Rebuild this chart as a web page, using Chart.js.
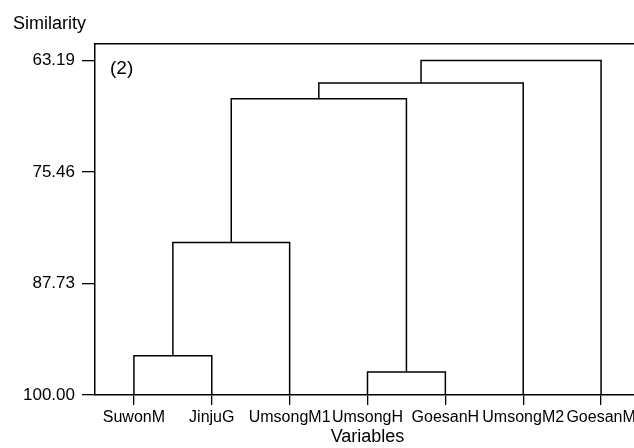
<!DOCTYPE html>
<html>
<head>
<meta charset="utf-8">
<script src="https://cdn.jsdelivr.net/npm/chart.js@4/dist/chart.umd.min.js"></script>
<style>
  html, body { margin: 0; padding: 0; background: #fff; overflow: hidden; }
  #wrap { width: 634px; height: 448px; overflow: hidden; }
</style>
</head>
<body>
<div id="wrap"><canvas id="myChart" width="680" height="448"></canvas></div>
<script>
// leaves of the dendrogram, left to right
const leaves = ['SuwonM', 'JinjuG', 'UmsongM1', 'UmsongH', 'GoesanH', 'UmsongM2', 'GoesanM'];
// merges: node ids 0..6 are leaves, 7.. are the clusters made below, in order
const mergeLeft = [0, 3, 7, 9, 10, 11];
const mergeRight = [1, 4, 2, 8, 5, 6];
const mergeHeight = [95.67, 97.47, 83.22, 67.38, 65.65, 63.19];
const yTicks = [63.19, 75.46, 87.73, 100.00];

// position of every node, built from the merge table
var nodeX = leaves.map(function (l, i) { return i; });
var nodeY = leaves.map(function () { return 100; });
var datasets = [];
for (var i = 0; i < mergeLeft.length; i++) {
	var a = mergeLeft[i], b = mergeRight[i], h = mergeHeight[i];
	datasets.push({
		data: [
			{x: nodeX[a], y: nodeY[a]},
			{x: nodeX[a], y: h},
			{x: nodeX[b], y: h},
			{x: nodeX[b], y: nodeY[b]}
		],
		borderColor: '#000',
		borderWidth: 1.5,
		pointRadius: 0,
		tension: 0,
		fill: false
	});
	nodeX.push((nodeX[a] + nodeX[b]) / 2);
	nodeY.push(h);
}

Chart.defaults.font.family = '"Liberation Sans", Arial, sans-serif';
Chart.defaults.color = '#000';

// the "(2)" panel tag in the corner of the plot
const panelTag = {
	id: 'panelTag',
	afterDraw(chart) {
		var ctx = chart.ctx;
		ctx.save();
		ctx.font = '19px "Liberation Sans", Arial, sans-serif';
		ctx.fillStyle = '#000';
		ctx.textBaseline = 'alphabetic';
		ctx.fillText('(2)', chart.chartArea.left + 15, chart.chartArea.top + 30);
		ctx.restore();
	}
};

var ctx = document.getElementById('myChart').getContext('2d');
var chart = new Chart(ctx, {
	type: 'line',
	data: { datasets: datasets },
	options: {
		responsive: false,
		animation: false,
		layout: { padding: { left: 13, right: 40, top: 0, bottom: 0 } },
		plugins: {
			legend: { display: false },
			tooltip: { enabled: false },
			title: {
				display: true,
				text: 'Similarity',
				align: 'start',
				font: { size: 18, weight: 'normal' },
				color: '#000',
				padding: { top: 13, bottom: 9 }
			}
		},
		scales: {
			x: {
				type: 'linear',
				min: -0.5,
				max: leaves.length - 0.5,
				afterBuildTicks(scale) {
					scale.ticks = leaves.map(function (l, i) { return {value: i}; });
				},
				afterFit(scale) { scale.height = 53; },
				ticks: {
					autoSkip: false,
					maxRotation: 0,
					padding: 3,
					font: { size: 16 },
					callback: function (v) { return leaves[v]; }
				},
				grid: { drawOnChartArea: false, tickLength: 10, color: '#000', lineWidth: 1.3 },
				border: { display: true, color: '#000', width: 1.5 },
				title: {
					display: true,
					text: 'Variables',
					font: { size: 18 },
					padding: { top: 0, bottom: 0 }
				}
			},
			xTop: {
				type: 'linear',
				position: 'top',
				min: -0.5,
				max: leaves.length - 0.5,
				ticks: { display: false },
				grid: { display: false, drawTicks: false },
				border: { display: true, color: '#000', width: 1.5 }
			},
			y: {
				type: 'linear',
				reverse: true,
				min: 61.32,
				max: 100,
				afterBuildTicks(scale) {
					scale.ticks = yTicks.map(function (v) { return {value: v}; });
				},
				afterFit(scale) { scale.width = 82; },
				ticks: {
					padding: 7,
					font: { size: 17 },
					callback: function (v) { return v.toFixed(2); }
				},
				grid: { drawOnChartArea: false, tickLength: 13, color: '#000', lineWidth: 1.3 },
				border: { display: true, color: '#000', width: 1.5 }
			}
		}
	},
	plugins: [panelTag]
});
</script>
</body>
</html>
